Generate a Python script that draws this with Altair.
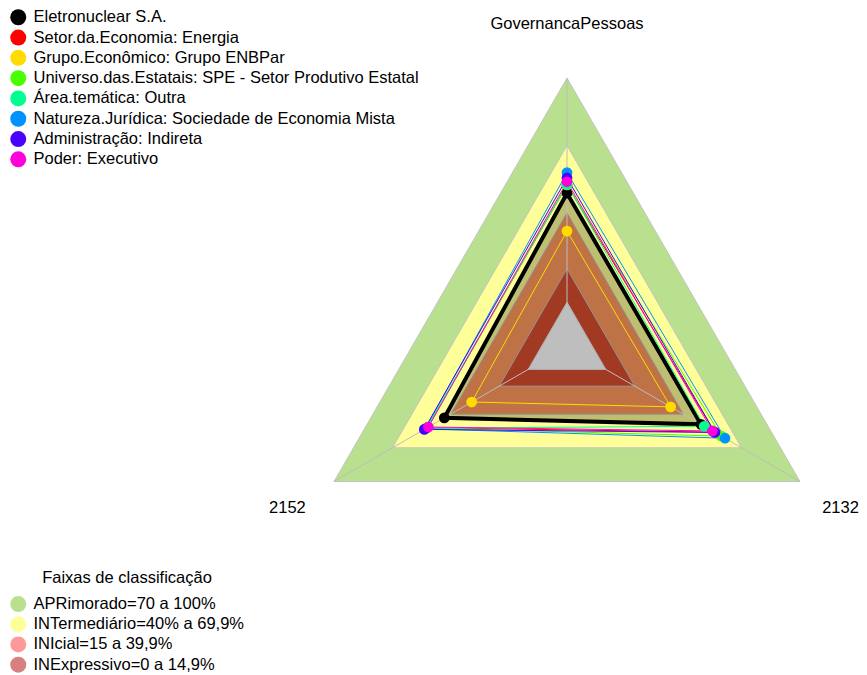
import math
import altair as alt
import pandas as pd

# ---------------- data ----------------
axes_names = ["GovernancaPessoas", "2152", "2132"]
axis_angles = [90, 210, 330]

series_names = [
    "Eletronuclear S.A.",
    "Setor.da.Economia: Energia",
    "Grupo.Econômico: Grupo ENBPar",
    "Universo.das.Estatais: SPE - Setor Produtivo Estatal",
    "Área.temática: Outra",
    "Natureza.Jurídica: Sociedade de Economia Mista",
    "Administração: Indireta",
    "Poder: Executivo",
]
series_colors = ["#000000", "#FF0000", "#FFDB00", "#49FF00",
                 "#00FF92", "#0092FF", "#4900FF", "#FF00DB"]

# values per series, in the order of axes_names
eletronuclear = [48.6, 43.2, 49.0]
setor_energia = [52.3, 52.0, 56.0]
grupo_enbpar = [31.7, 29.1, 33.4]
universo_spe = [52.3, 52.2, 59.5]
area_outra = [52.5, 52.5, 50.7]
natureza_sem = [57.8, 53.0, 61.4]
adm_indireta = [55.4, 53.5, 56.2]
poder_executivo = [53.7, 51.4, 54.9]
series_values = [eletronuclear, setor_energia, grupo_enbpar, universo_spe,
                 area_outra, natureza_sem, adm_indireta, poder_executivo]

band_names = ["APRimorado=70 a 100%", "INTermediário=40% a 69,9%",
              "INIcial=15 a 39,9%", "INExpressivo=0 a 14,9%"]
band_limits = [100, 69.9, 39.9, 14.9]
band_colors = ["#B9E08E", "#FFFF99", "rgba(255,0,0,0.4)", "rgba(180,0,0,0.5)"]

center_value = 0


def pos(v):
    # radial position with a centre gap of one segment (5 segments)
    return (1 + 5 * v / 100.0) / 6.0


def xy(v, ang):
    r = pos(v)
    a = math.radians(ang)
    return r * math.cos(a), r * math.sin(a)


# ---------------- tables ----------------
band_rows = []
for b, lim in zip(band_names, band_limits):
    for k, ang in enumerate(axis_angles):
        x, y = xy(lim, ang)
        band_rows.append({"band": b, "vertex": k, "x": x, "y": y})
bands_df = pd.DataFrame(band_rows)

center_rows = []
for k, ang in enumerate(axis_angles):
    x, y = xy(center_value, ang)
    center_rows.append({"vertex": k, "x": x, "y": y})
center_df = pd.DataFrame(center_rows)

ser_rows = []
for s, vals in zip(series_names, series_values):
    for k, (v, ang) in enumerate(zip(vals, axis_angles)):
        x, y = xy(v, ang)
        ser_rows.append({"series": s, "vertex": k, "axis": axes_names[k],
                         "value": v, "x": x, "y": y})
ser_df = pd.DataFrame(ser_rows)

axis_rows = []
for name, ang in zip(axes_names, axis_angles):
    x2, y2 = xy(100, ang)
    a = math.radians(ang)
    axis_rows.append({"axis": name, "x": 0.0, "y": 0.0, "x2": x2, "y2": y2,
                      "lx": 1.2 * math.cos(a), "ly": 1.2 * math.sin(a)})
axis_df = pd.DataFrame(axis_rows)

# ---------------- scales ----------------
W, H = 851, 667
CX, CY, R = 559.0, 339.0, 269.0
xs = alt.Scale(domain=[-CX / R, (W - CX) / R], nice=False, zero=False)
ys = alt.Scale(domain=[-(H - CY) / R, CY / R], nice=False, zero=False)
X = alt.X("x:Q", scale=xs, axis=None)
Y = alt.Y("y:Q", scale=ys, axis=None)

FONT = "Liberation Sans"
FS = 16.5

fill_enc = alt.Fill(
    "band:N",
    scale=alt.Scale(domain=band_names, range=band_colors),
    title="Faixas de classificação",
    legend=alt.Legend(
        orient="none", legendX=2, legendY=562,
        symbolType="circle", symbolSize=256, symbolStrokeWidth=0,
        symbolOpacity=1, labelLimit=600,
        labelFont=FONT, labelFontSize=FS, labelColor="black", labelOffset=7,
        titleFont=FONT, titleFontSize=FS, titleFontWeight="normal",
        titleColor="black", titleAnchor="middle", titlePadding=9.3,
        rowPadding=3.2,
    ),
)

layers = []
for b in band_names:
    layers.append(
        alt.Chart(bands_df[bands_df.band == b]).mark_line(
            interpolate="linear-closed", stroke="#C4C4C4", strokeWidth=1
        ).encode(x=X, y=Y, fill=fill_enc, order="vertex:Q")
    )

# semi-transparent fill of the company polygon
layers.append(
    alt.Chart(ser_df[ser_df.series == series_names[0]]).mark_line(
        interpolate="linear-closed", fill="rgba(0,0,0,0.25)", strokeOpacity=0
    ).encode(x=X, y=Y, order="vertex:Q")
)

# grey centre
layers.append(
    alt.Chart(center_df).mark_line(
        interpolate="linear-closed", fill="#BEBEBE", stroke="#B0B0B0", strokeWidth=1
    ).encode(x=X, y=Y, order="vertex:Q")
)

# axis spokes
layers.append(
    alt.Chart(axis_df).mark_rule(color="#BDBDBD", strokeWidth=1).encode(
        x=X, y=Y, x2="x2:Q", y2="y2:Q")
)

series_legend = alt.Legend(
    orient="none", legendX=2, legendY=1,
    symbolType="circle", symbolSize=256, symbolStrokeWidth=0,
    symbolOpacity=1,
    labelFont=FONT, labelFontSize=FS, labelColor="black",
    labelOffset=7, rowPadding=3.3, labelLimit=600,
)
stroke_scale = alt.Scale(domain=series_names, range=series_colors)
color_scale = alt.Scale(domain=series_names, range=series_colors)

for s in series_names:
    sw = 4 if s == series_names[0] else 1
    layers.append(
        alt.Chart(ser_df[ser_df.series == s]).mark_line(
            interpolate="linear-closed", strokeWidth=sw
        ).encode(
            x=X, y=Y, order="vertex:Q",
            stroke=alt.Stroke("series:N", scale=stroke_scale, title=None,
                              legend=series_legend),
        )
    )

layers.append(
    alt.Chart(ser_df).mark_circle(size=115, opacity=1).encode(
        x=X, y=Y,
        color=alt.Color("series:N", scale=color_scale, title=None,
                        legend=series_legend),
    )
)

label_x = alt.X("lx:Q", scale=xs, axis=None)
label_y = alt.Y("ly:Q", scale=ys, axis=None)
layers.append(
    alt.Chart(axis_df[axis_df.axis != "2132"]).mark_text(
        font=FONT, fontSize=FS, color="black", align="center", baseline="middle"
    ).encode(x=label_x, y=label_y, text="axis:N")
)
# right label nudged left so it stays inside the drawing
layers.append(
    alt.Chart(axis_df[axis_df.axis == "2132"]).mark_text(
        font=FONT, fontSize=FS, color="black", align="center", baseline="middle",
        dx=-6
    ).encode(x=label_x, y=label_y, text="axis:N")
)

chart = alt.layer(*layers).properties(
    width=W, height=H, padding=0,
    autosize=alt.AutoSizeParams(type="none"),
).configure_view(stroke=None)

chart.save("out.html", embed_options={"renderer": "svg", "actions": False})
